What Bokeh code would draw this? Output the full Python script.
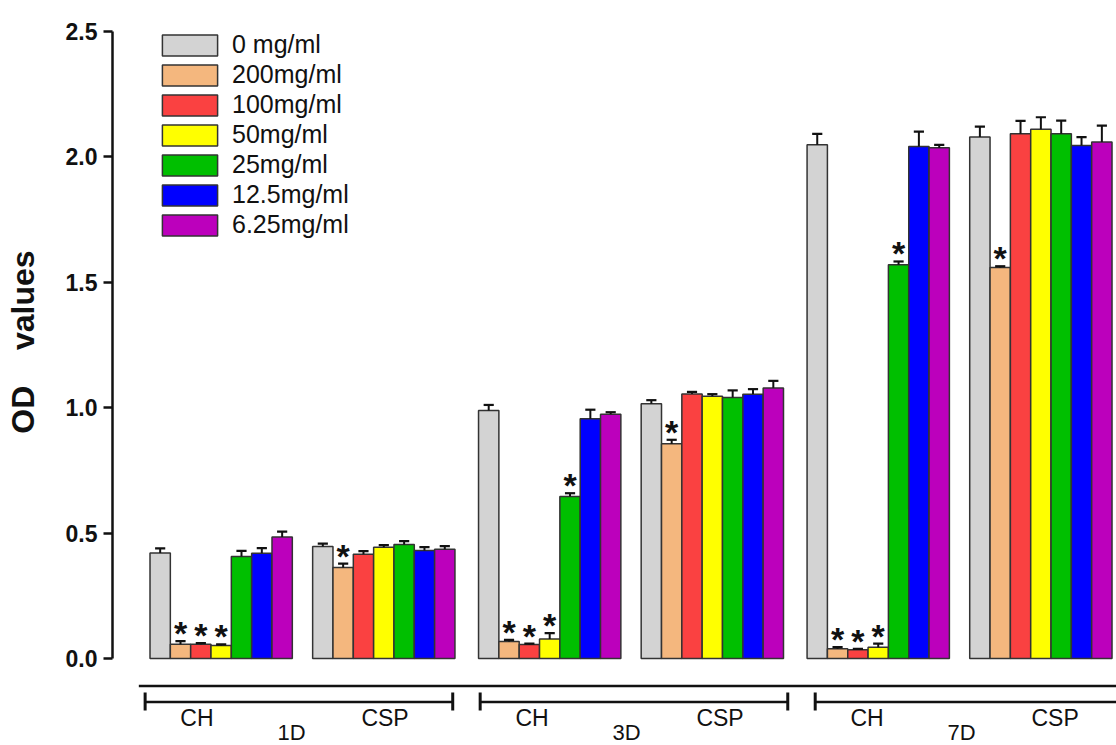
from bokeh.plotting import figure
from bokeh.layouts import column
from bokeh.models import (Range1d, FixedTicker, PrintfTickFormatter, ColumnDataSource,
                          Legend, LegendItem)
from bokeh.core.properties import value
from bokeh.embed import file_html
from bokeh.resources import INLINE

# ---------------- data ----------------
days = ["1D", "3D", "7D"]
groups = ["CH", "CSP"]
series_labels = ["0 mg/ml", "200mg/ml", "100mg/ml", "50mg/ml",
                 "25mg/ml", "12.5mg/ml", "6.25mg/ml"]
colors = ["#D3D3D3", "#F4B77E", "#FA4141", "#FFFF00", "#00BF00", "#0000FF", "#BC00BC"]

# order of values: 1D-CH, 1D-CSP, 3D-CH, 3D-CSP, 7D-CH, 7D-CSP
od_0 = [0.421, 0.447, 0.989, 1.016, 2.048, 2.079]
od_200 = [0.057, 0.363, 0.068, 0.856, 0.039, 1.559]
od_100 = [0.057, 0.416, 0.056, 1.055, 0.035, 2.092]
od_50 = [0.052, 0.444, 0.078, 1.046, 0.045, 2.110]
od_25 = [0.407, 0.455, 0.646, 1.041, 1.570, 2.092]
od_12_5 = [0.420, 0.431, 0.956, 1.054, 2.041, 2.045]
od_6_25 = [0.484, 0.436, 0.974, 1.079, 2.036, 2.059]

err_0 = [0.018, 0.011, 0.022, 0.014, 0.044, 0.042]
err_200 = [0.012, 0.015, 0.006, 0.016, 0.006, 0.005]
err_100 = [0.004, 0.012, 0.003, 0.008, 0.003, 0.052]
err_50 = [0.004, 0.008, 0.023, 0.008, 0.014, 0.048]
err_25 = [0.022, 0.013, 0.013, 0.028, 0.013, 0.053]
err_12_5 = [0.020, 0.013, 0.036, 0.020, 0.060, 0.034]
err_6_25 = [0.022, 0.012, 0.008, 0.028, 0.012, 0.066]

# significance marks (1 = "*")
sig_0 = [0, 0, 0, 0, 0, 0]
sig_200 = [1, 1, 1, 1, 1, 1]
sig_100 = [1, 0, 1, 0, 1, 0]
sig_50 = [1, 0, 1, 0, 1, 0]
sig_25 = [0, 0, 1, 0, 1, 0]
sig_12_5 = [0, 0, 0, 0, 0, 0]
sig_6_25 = [0, 0, 0, 0, 0, 0]

y_ticks = [0.0, 0.5, 1.0, 1.5, 2.0, 2.5]

means = [od_0, od_200, od_100, od_50, od_25, od_12_5, od_6_25]
errs = [err_0, err_200, err_100, err_50, err_25, err_12_5, err_6_25]
sigs = [sig_0, sig_200, sig_100, sig_50, sig_25, sig_12_5, sig_6_25]

# ---------------- layout ----------------
W = 1116
FRAME_BOTTOM = 661
H_TOP, H_BOT = 675, 70
BORDER_L, BORDER_T = 112, 31
N = len(series_labels)
GROUP_GAP = 1.0
DAY_GAP = 1.16
group_step = N + GROUP_GAP
day_step = 2 * N + GROUP_GAP + DAY_GAP
X_START, X_END = -1.845, 47.54
Y_START, Y_END = -0.012, 2.5
px_per_unit = (FRAME_BOTTOM - BORDER_T) / (Y_END - Y_START)
STAR_GAP = 8 / px_per_unit


def bar_x(g, i):
    d, t = divmod(g, 2)
    return d * day_step + t * group_step + i + 0.5


xr = Range1d(X_START, X_END)
p = figure(width=W, height=H_TOP, output_backend="svg", toolbar_location=None,
           x_range=xr, y_range=Range1d(Y_START, Y_END),
           x_axis_location=None, min_border_left=BORDER_L, min_border_right=0,
           min_border_top=BORDER_T, min_border_bottom=H_TOP - FRAME_BOTTOM)
p.outline_line_color = None
p.grid.visible = False

n_groups = len(days) * len(groups)
items = []
star_x, star_y = [], []
for s in range(N):
    xs = [bar_x(g, s) for g in range(n_groups)]
    tops = means[s]
    etop = [m + e for m, e in zip(tops, errs[s])]
    src = ColumnDataSource(dict(x=xs, top=tops, etop=etop,
                                cx0=[x - 0.25 for x in xs], cx1=[x + 0.25 for x in xs]))
    r = p.vbar(x="x", top="top", bottom=0, width=1.0, source=src,
               fill_color=colors[s], line_color="#333333", line_width=1.5)
    p.segment(x0="x", y0="top", x1="x", y1="etop", source=src,
              line_color="#111111", line_width=2)
    p.segment(x0="cx0", y0="etop", x1="cx1", y1="etop", source=src,
              line_color="#111111", line_width=2.2)
    items.append(LegendItem(label=series_labels[s], renderers=[r]))
    for g in range(n_groups):
        if sigs[s][g]:
            star_x.append(xs[g])
            star_y.append(etop[g] + STAR_GAP)

p.text(x=star_x, y=star_y, text=["*"] * len(star_x), text_align="center",
       text_baseline="middle", text_font=value("Liberation Sans"),
       text_font_size="34px", text_font_style="bold", text_color="#111111")

# ---- y axis ----
ax = p.yaxis[0]
ax.bounds = (0, 2.5)
ax.ticker = FixedTicker(ticks=y_ticks)
ax.formatter = PrintfTickFormatter(format="%.1f")
ax.axis_line_width = 2.5
ax.axis_line_color = "#111111"
ax.major_tick_line_width = 2.5
ax.major_tick_line_color = "#111111"
ax.major_tick_out = 9
ax.major_tick_in = 0
ax.minor_tick_out = 0
ax.minor_tick_in = 0
ax.major_label_standoff = 6
ax.major_label_text_font = "Liberation Sans"
ax.major_label_text_font_style = "bold"
ax.major_label_text_font_size = "23px"
ax.major_label_text_color = "#111111"
ax.axis_label = "\u00a0OD\u00a0\u00a0\u00a0 values"
ax.axis_label_text_font = "Liberation Sans"
ax.axis_label_text_font_style = "bold"
ax.axis_label_text_font_size = "32px"
ax.axis_label_text_color = "#111111"
ax.axis_label_standoff = 22

legend = Legend(items=items, location=(43, 422), orientation="vertical",
                glyph_width=69, glyph_height=26, label_height=26, spacing=1,
                padding=0, margin=0, label_standoff=8,
                label_text_font="Liberation Sans", label_text_font_size="25px",
                label_text_color="#111111", border_line_color=None,
                background_fill_alpha=0)
p.add_layout(legend)

# ---- group brackets under the bars (y in px below the top figure) ----
q = figure(width=W, height=H_BOT, output_backend="svg", toolbar_location=None,
           x_range=xr, y_range=Range1d(H_BOT, 0),
           x_axis_location=None, y_axis_location=None,
           min_border_left=BORDER_L, min_border_right=0,
           min_border_top=0, min_border_bottom=0)
q.outline_line_color = None
q.grid.visible = False

BRACKET_START0 = -0.24
BRACKET_STEP = 16.48
BRACKET_LEN = 15.13
q.segment(x0=[-0.55], y0=[10.5], x1=[X_END], y1=[10.5],
          line_color="#111111", line_width=2.5)
bx0 = [BRACKET_START0 + d * BRACKET_STEP for d in range(len(days))]
bx1 = [b + BRACKET_LEN for b in bx0]
q.segment(x0=bx0, y0=[26.5] * len(bx0), x1=bx1, y1=[26.5] * len(bx0),
          line_color="#111111", line_width=2.5)
q.segment(x0=bx0 + bx1, y0=[17] * (2 * len(bx0)), x1=bx0 + bx1,
          y1=[35] * (2 * len(bx0)), line_color="#111111", line_width=3)

lab_x, lab_t = [], []
for d in range(len(days)):
    lab_x += [bx0[d] + 2.55, bx0[d] + 11.8]
    lab_t += groups
q.text(x=lab_x, y=[42] * len(lab_x), text=lab_t, text_align="center",
       text_baseline="middle", text_font=value("Liberation Sans"),
       text_font_size="23px", text_color="#111111")
q.text(x=[b + 7.2 for b in bx0], y=[57] * len(days), text=days,
       text_align="center", text_baseline="middle", text_font=value("Liberation Sans"),
       text_font_size="22px", text_color="#111111")

layout = column(p, q, spacing=0)
open("out.html", "w").write(file_html(layout, INLINE))
